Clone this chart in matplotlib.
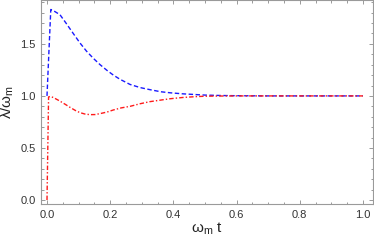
import matplotlib
matplotlib.use("Agg")
import matplotlib.pyplot as plt
from matplotlib.ticker import MultipleLocator

# values
t_blue = [0.0, 0.006, 0.012, 0.025, 0.041, 0.06, 0.083, 0.104, 0.125, 0.147,
          0.168, 0.19, 0.21, 0.231, 0.263, 0.295, 0.326, 0.36, 0.39, 0.43,
          0.47, 0.5, 0.55, 0.6, 0.7, 0.8, 0.9, 1.0]
blue = [1.0, 1.42, 1.83, 1.81, 1.78, 1.70, 1.60, 1.51, 1.43, 1.36,
        1.30, 1.245, 1.20, 1.16, 1.11, 1.08, 1.06, 1.04, 1.03, 1.02,
        1.013, 1.008, 1.004, 1.002, 1.0, 1.0, 1.0, 1.0]

t_red = [0.0, 0.005, 0.01, 0.02, 0.041, 0.06, 0.073, 0.09, 0.104, 0.12,
         0.136, 0.152, 0.168, 0.19, 0.21, 0.235, 0.263, 0.295, 0.326, 0.36,
         0.39, 0.43, 0.47, 0.5, 0.55, 0.6, 0.7, 0.8, 0.9, 1.0]
red = [0.0, 0.99, 0.995, 0.985, 0.95, 0.915, 0.89, 0.86, 0.84, 0.826,
       0.82, 0.821, 0.83, 0.845, 0.865, 0.885, 0.90, 0.925, 0.945, 0.96,
       0.973, 0.985, 0.993, 0.997, 0.999, 1.0, 1.0, 1.0, 1.0, 1.0]

plt.rcParams['font.family'] = 'Liberation Sans'
plt.rcParams['mathtext.fontset'] = 'custom'
plt.rcParams['mathtext.rm'] = 'Liberation Sans'
plt.rcParams['mathtext.it'] = 'Liberation Sans'

W, H = 374, 243
fig = plt.figure(figsize=(W / 100, H / 100), dpi=100)
ax = fig.add_axes([41 / W, (H - 204) / H, (373 - 41) / W, 204.5 / H])

ax.plot(t_blue, blue, color='#1a1aff', lw=1.0, dashes=(3.2, 1.8))
ax.plot(t_red, red, color='#ff1a1a', lw=1.0, dashes=(3.2, 1.5, 1.0, 1.5))

ax.set_xlim(-0.019, 1.032)
ax.set_ylim(-0.038, 1.926)

ax.xaxis.set_major_locator(MultipleLocator(0.2))
ax.xaxis.set_minor_locator(MultipleLocator(0.05))
ax.yaxis.set_major_locator(MultipleLocator(0.5))
ax.yaxis.set_minor_locator(MultipleLocator(0.1))

frame = '#9a9a9a'
for s in ax.spines.values():
    s.set_color(frame)
    s.set_linewidth(0.8)
ax.tick_params(which='both', direction='in', top=True, right=True,
               color=frame, width=0.7, labelsize=8, labelcolor='#333333')
ax.tick_params(which='major', length=3.2, pad=4)
ax.tick_params(which='minor', length=1.8)

ax.set_xlabel(r'ω$_\mathrm{m}$ t', fontsize=11, color='#222222', labelpad=1)
ax.set_ylabel(r'λ/ω$_\mathrm{m}$', fontsize=11, color='#222222', labelpad=3)

fig.savefig('out.png', dpi=100)
